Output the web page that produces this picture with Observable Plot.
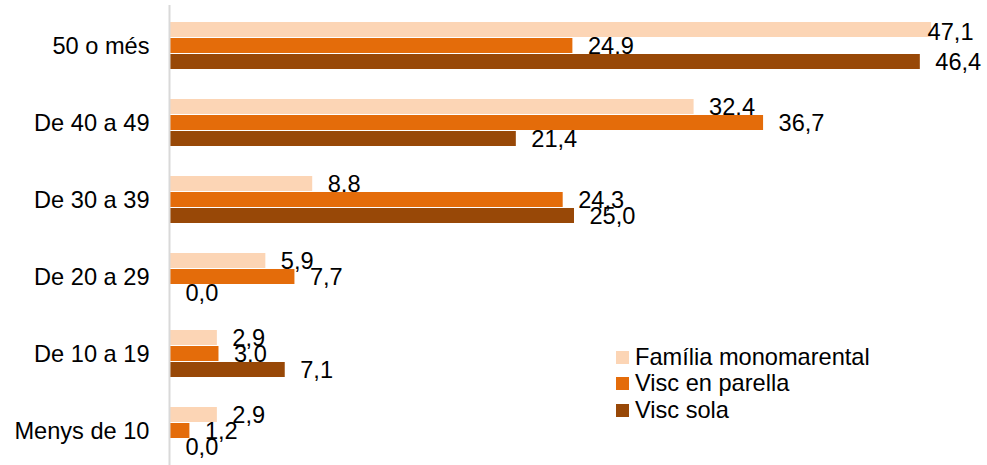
<!DOCTYPE html>
<html>
<head>
<meta charset="utf-8">
<script src="https://cdn.jsdelivr.net/npm/d3@7"></script>
<script src="https://cdn.jsdelivr.net/npm/@observablehq/plot@0.6"></script>
<style>
  html, body { margin: 0; padding: 0; background: #fff; }
  #wrap { position: relative; width: 987px; height: 465px; font-family: "Liberation Sans", Arial, sans-serif; }
  #legend { position: absolute; left: 616px; top: 344px; font-size: 23.6px; color: #000; }
  #legend .row { display: flex; align-items: center; height: 26.5px; white-space: nowrap; }
  #legend .sw { width: 13px; height: 13px; margin-right: 6px; flex: none; }
</style>
</head>
<body>
<div id="wrap"></div>
<script>
const categories = ["50 o més", "De 40 a 49", "De 30 a 39", "De 20 a 29", "De 10 a 19", "Menys de 10"];
const series = ["Família monomarental", "Visc en parella", "Visc sola"];
const familia = [47.1, 32.4, 8.8, 5.9, 2.9, 2.9];
const parella = [24.9, 36.7, 24.3, 7.7, 3.0, 1.2];
const sola = [46.4, 21.4, 25.0, 0.0, 7.1, 0.0];
const colors = ["#FCD5B5", "#E46C0A", "#984807"];

const values = [familia, parella, sola];
const rows = [];
series.forEach((s, i) => categories.forEach((c, j) => rows.push({category: c, series: s, si: i, value: values[i][j]})));
const maxVal = d3.max(rows, d => d.value);
const fmt = d => d.value.toFixed(1).replace(".", ",");
const FS = 23.6;

const marks = [];
series.forEach((s, i) => {
  const sub = rows.filter(d => d.si === i);
  marks.push(Plot.barX(sub, {x: "value", y: "category", fill: colors[i], insetTop: 16 * i, insetBottom: 16 * (2 - i)}));
  marks.push(Plot.text(sub.filter(d => d.value < maxVal), {x: "value", y: "category", text: fmt, dx: 15, dy: 16 * (i - 1), textAnchor: "start", fontSize: FS, fill: "#000"}));
  marks.push(Plot.text(sub.filter(d => d.value === maxVal), {y: "category", frameAnchor: "right", text: fmt, dx: -5, dy: 16 * (i - 1) + 2, textAnchor: "end", fontSize: FS, fill: "#000"}));
});
marks.push(Plot.ruleX([0], {stroke: "#d9d9d9", strokeWidth: 2, dx: -1}));
marks.push(Plot.axisY({tickSize: 0, tickPadding: 21, fontSize: FS, label: null}));

const chart = Plot.plot({
  width: 987,
  height: 465,
  marginLeft: 170,
  marginRight: 9,
  marginTop: 5,
  marginBottom: 0,
  style: {fontFamily: "'Liberation Sans', Arial, sans-serif", background: "#fff", color: "#000"},
  x: {domain: [0, 50], axis: null},
  y: {domain: categories, range: [5, 471], paddingInner: 0.385, paddingOuter: 0.19, axis: null},
  marks
});
const wrap = document.getElementById("wrap");
wrap.appendChild(chart);

const legend = document.createElement("div");
legend.id = "legend";
series.forEach((s, i) => {
  const row = document.createElement("div");
  row.className = "row";
  const sw = document.createElement("span");
  sw.className = "sw";
  sw.style.background = colors[i];
  const t = document.createElement("span");
  t.textContent = s;
  row.appendChild(sw);
  row.appendChild(t);
  legend.appendChild(row);
});
wrap.appendChild(legend);
</script>
</body>
</html>
